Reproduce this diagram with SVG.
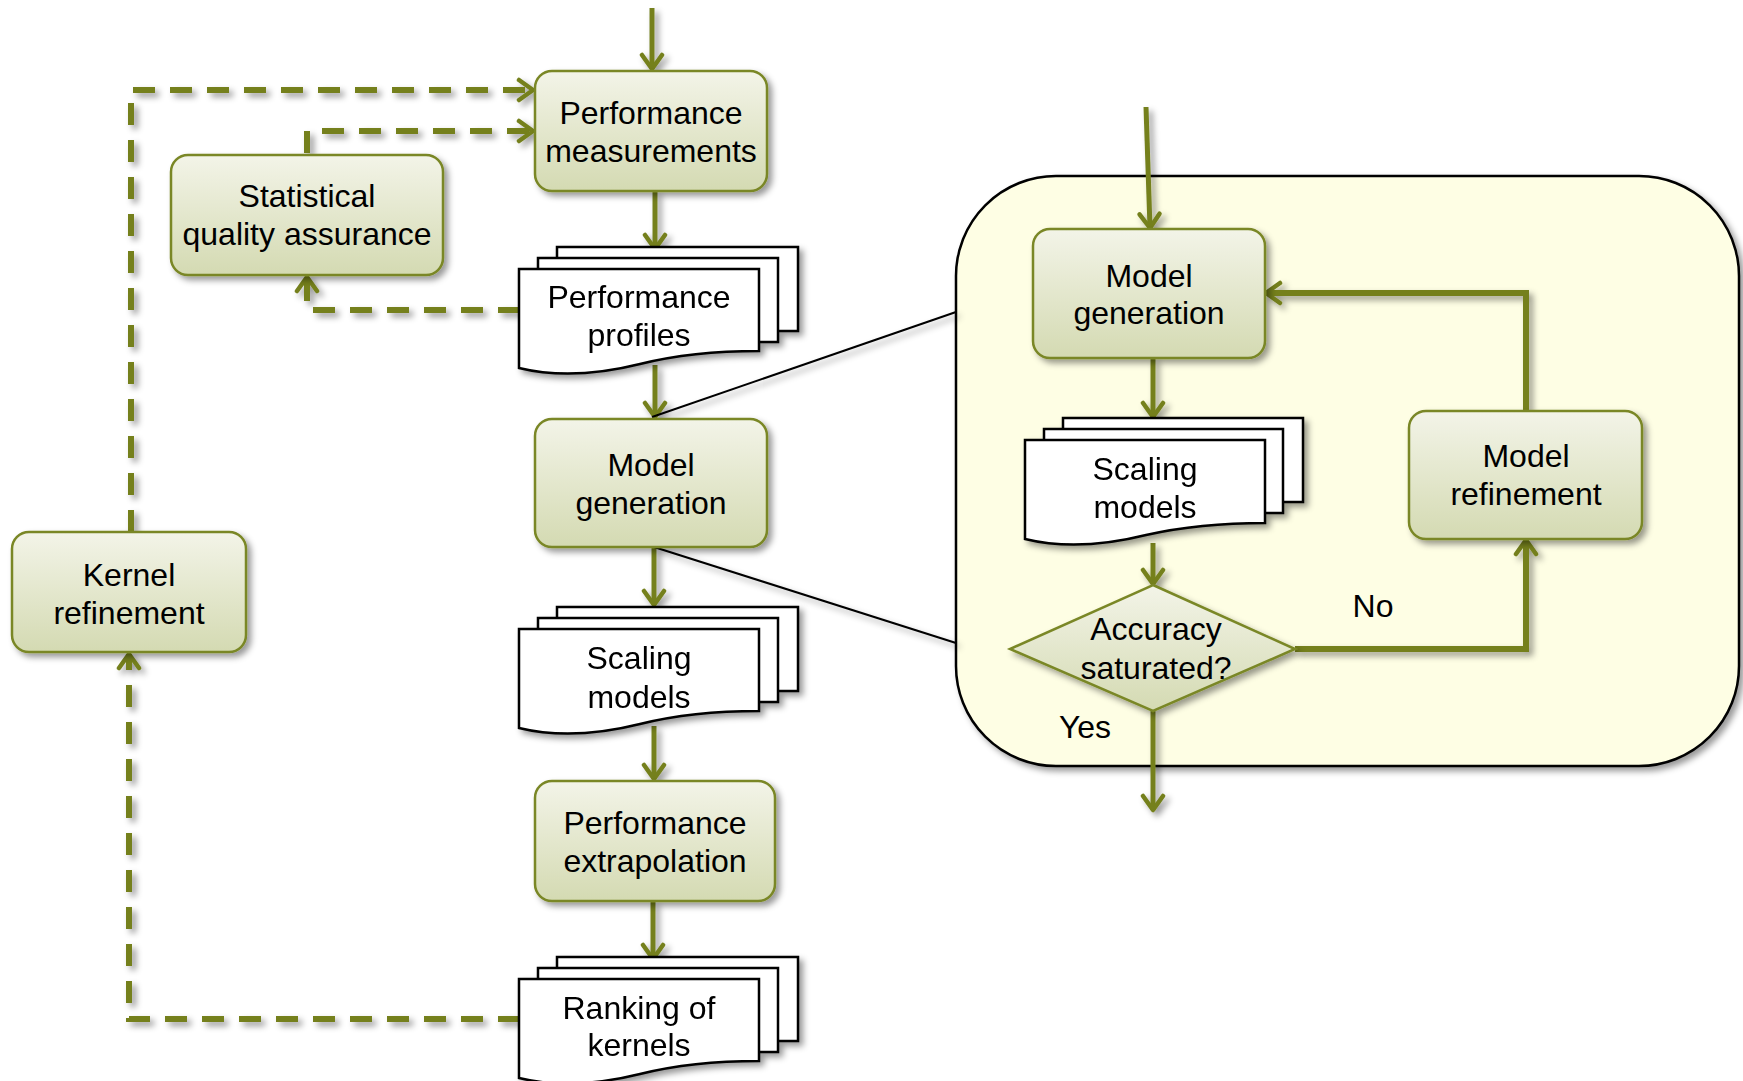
<svg xmlns="http://www.w3.org/2000/svg" width="1743" height="1081" viewBox="0 0 1743 1081">
<defs>
  <linearGradient id="boxg" x1="0" y1="0" x2="0" y2="1">
    <stop offset="0" stop-color="#F3F4E8"/>
    <stop offset="1" stop-color="#D4DAB2"/>
  </linearGradient>
  <filter id="sh" x="-20%" y="-20%" width="140%" height="140%">
    <feDropShadow dx="4" dy="4" stdDeviation="3" flood-color="#000" flood-opacity="0.4"/>
  </filter>
  <marker id="ah" markerUnits="userSpaceOnUse" viewBox="0 0 22 26" markerWidth="22" markerHeight="26" refX="18" refY="13" orient="auto">
    <path d="M4,3 L18,13 L4,23" fill="none" stroke="#74801F" stroke-width="4.5" stroke-linecap="round" stroke-linejoin="round"/>
  </marker>
</defs>
<style>
  .box { fill: url(#boxg); stroke: #7A8726; stroke-width: 2.5; filter: url(#sh); }
  .doc { fill: #FFFFFF; stroke: #000; stroke-width: 2.5; }
  .t { font-family: "Liberation Sans", Arial, sans-serif; font-size: 32px; fill: #000; text-anchor: middle; }
  .solid { fill: none; stroke: #74801F; stroke-width: 5; marker-end: url(#ah); }
  .thick { fill: none; stroke: #74801F; stroke-width: 6; marker-end: url(#ah); }
  .dash { fill: none; stroke: #74801F; stroke-width: 6; stroke-dasharray: 22 15; marker-end: url(#ah); }
  .thin { fill: none; stroke: #000; stroke-width: 2; }
</style>

<g id="panel">
  <rect x="956" y="176" width="783" height="590" rx="100" ry="100" fill="#FEFEE4" stroke="#000" stroke-width="2.5" filter="url(#sh)"/>
</g>

<g id="connectors" filter="url(#sh)">
  <path class="solid" d="M652,8 V69"/>
  <path class="solid" d="M655,191 V249"/>
  <path class="solid" d="M655,365 V417"/>
  <path class="solid" d="M654,547 V605"/>
  <path class="solid" d="M654,726 V779"/>
  <path class="solid" d="M653,901 V959"/>
  <path class="dash" d="M131,532 V90 H533"/>
  <path class="dash" d="M307,153 V131 H533"/>
  <path class="dash" d="M520,310 H307 V277"/>
  <path class="dash" d="M520,1019 H129 V654"/>
  <path class="thin" d="M652,417 L956,312"/>
  <path class="thin" d="M654,547 L956,643"/>
  <path class="solid" d="M1146,107 L1150,228"/>
  <path class="solid" d="M1153,358 V417"/>
  <path class="solid" d="M1153,543 V584"/>
  <path class="thick" d="M1526,411 V293 H1266"/>
  <path class="thick" d="M1295,649 H1526 V540"/>
  <path class="solid" d="M1153,711 V810"/>
</g>

<g id="perf-measurements">
  <rect class="box" x="535" y="71" width="232" height="120" rx="17"/>
  <text class="t" x="651" y="124">Performance</text>
  <text class="t" x="651" y="162">measurements</text>
</g>

<g id="stat-qa">
  <rect class="box" x="171" y="155" width="272" height="120" rx="17"/>
  <text class="t" x="307" y="207">Statistical</text>
  <text class="t" x="307" y="245">quality assurance</text>
</g>

<g id="perf-profiles" filter="url(#sh)">
  <rect class="doc" x="557" y="247" width="241" height="84"/>
  <rect class="doc" x="538" y="258" width="240" height="84"/>
  <path class="doc" d="M519,269 H759 V351 C720,351 680,354 640,364 C600,374 560,378 519,368 Z"/>
  <text class="t" x="639" y="308">Performance</text>
  <text class="t" x="639" y="346">profiles</text>
</g>

<g id="model-generation-left">
  <rect class="box" x="535" y="419" width="232" height="128" rx="17"/>
  <text class="t" x="651" y="476">Model</text>
  <text class="t" x="651" y="514">generation</text>
</g>

<g id="scaling-models-left" filter="url(#sh)">
  <rect class="doc" x="557" y="607" width="241" height="84"/>
  <rect class="doc" x="538" y="618" width="240" height="84"/>
  <path class="doc" d="M519,629 H759 V711 C720,711 680,714 640,724 C600,734 560,738 519,728 Z"/>
  <text class="t" x="639" y="669">Scaling</text>
  <text class="t" x="639" y="708">models</text>
</g>

<g id="perf-extrapolation">
  <rect class="box" x="535" y="781" width="240" height="120" rx="17"/>
  <text class="t" x="655" y="834">Performance</text>
  <text class="t" x="655" y="872">extrapolation</text>
</g>

<g id="ranking" filter="url(#sh)">
  <rect class="doc" x="557" y="957" width="241" height="84"/>
  <rect class="doc" x="538" y="968" width="240" height="84"/>
  <path class="doc" d="M519,979 H759 V1061 C720,1061 680,1064 640,1074 C600,1084 560,1088 519,1078 Z"/>
  <text class="t" x="639" y="1019">Ranking of</text>
  <text class="t" x="639" y="1056">kernels</text>
</g>

<g id="kernel-refinement">
  <rect class="box" x="12" y="532" width="234" height="120" rx="17"/>
  <text class="t" x="129" y="586">Kernel</text>
  <text class="t" x="129" y="624">refinement</text>
</g>

<g id="model-generation-right">
  <rect class="box" x="1033" y="229" width="232" height="129" rx="17"/>
  <text class="t" x="1149" y="287">Model</text>
  <text class="t" x="1149" y="324">generation</text>
</g>

<g id="scaling-models-right" filter="url(#sh)">
  <rect class="doc" x="1063" y="418" width="240" height="84"/>
  <rect class="doc" x="1044" y="429" width="239" height="84"/>
  <path class="doc" d="M1025,440 H1265 V523 C1226,523 1186,526 1146,535 C1106,545 1066,549 1025,539 Z"/>
  <text class="t" x="1145" y="480">Scaling</text>
  <text class="t" x="1145" y="518">models</text>
</g>

<g id="model-refinement">
  <rect class="box" x="1409" y="411" width="233" height="128" rx="17"/>
  <text class="t" x="1526" y="467">Model</text>
  <text class="t" x="1526" y="505">refinement</text>
</g>

<g id="accuracy-decision">
  <polygon class="box" points="1153,585 1295,649 1153,711 1010,649"/>
  <text class="t" x="1156" y="640">Accuracy</text>
  <text class="t" x="1156" y="679">saturated?</text>
</g>

<g id="labels">
  <text class="t" x="1373" y="617">No</text>
  <text class="t" x="1085" y="738">Yes</text>
</g>
</svg>
